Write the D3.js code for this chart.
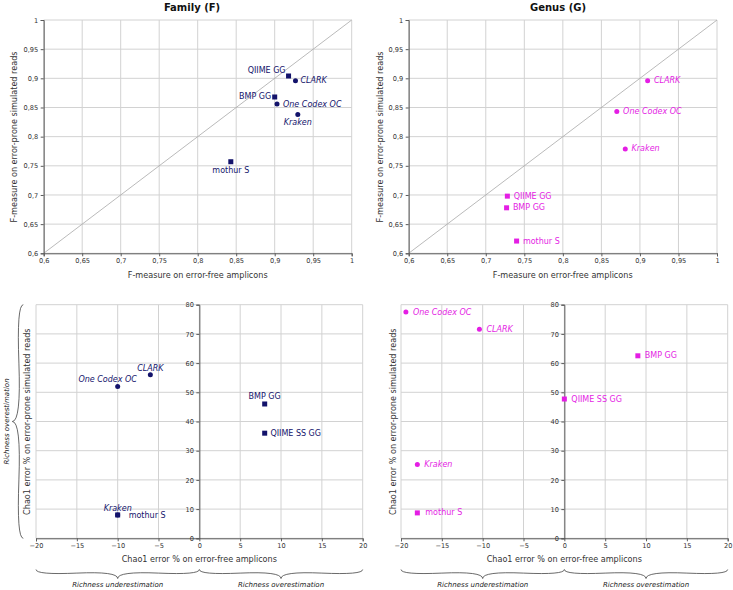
<!DOCTYPE html>
<html>
<head>
<meta charset="utf-8">
<script src="https://cdn.jsdelivr.net/npm/d3@7"></script>
<style>
  html, body { margin: 0; padding: 0; background: #fff; }
  svg { display: block; font-family: "DejaVu Sans", sans-serif; }
</style>
</head>
<body>
<svg id="chart" width="733" height="590"></svg>
<script>
// ---------------- DATA ----------------
const fmTicks = [0.6, 0.65, 0.7, 0.75, 0.8, 0.85, 0.9, 0.95, 1];
const chaoXTicks = [-20, -15, -10, -5, 0, 5, 10, 15, 20];
const chaoYTicks = [0, 10, 20, 30, 40, 50, 60, 70, 80];

// k-mer based classifiers (drawn as circles, italic labels); others are squares
const kmerTools = ["CLARK", "One Codex OC", "Kraken"];

// Family (F): F-measure
const famFmTools = ["QIIME GG", "CLARK", "BMP GG", "One Codex OC", "Kraken", "mothur S"];
const famFmFree  = [0.918, 0.927, 0.900, 0.903, 0.930, 0.843];
const famFmProne = [0.904, 0.896, 0.868, 0.856, 0.838, 0.757];

// Genus (G): F-measure
const genFmTools = ["CLARK", "One Codex OC", "Kraken", "QIIME GG", "BMP GG", "mothur S"];
const genFmFree  = [0.910, 0.870, 0.881, 0.728, 0.727, 0.740];
const genFmProne = [0.896, 0.843, 0.779, 0.698, 0.678, 0.621];

// Family (F): Chao1 error %
const famChTools = ["CLARK", "One Codex OC", "Kraken", "mothur S", "BMP GG", "QIIME SS GG"];
const famChFree  = [-6, -10, -10, -10, 8, 8];
const famChProne = [56, 52, 8, 8, 46, 36];

// Genus (G): Chao1 error %
const genChTools = ["One Codex OC", "CLARK", "BMP GG", "QIIME SS GG", "Kraken", "mothur S"];
const genChFree  = [-19.4, -10.4, 9, 0, -18, -18];
const genChProne = [77.5, 71.6, 62.5, 47.7, 25.3, 8.7];

const titles = ["Family (F)", "Genus (G)"];
const fmXLabel = "F-measure on error-free amplicons";
const fmYLabel = "F-measure on error-prone simulated reads";
const chXLabel = "Chao1 error % on error-free amplicons";
const chYLabel = "Chao1 error % on error-prone simulated reads";
const underLabel = "Richness underestimation";
const overLabel = "Richness overestimation";

// ---------------- STYLE / LAYOUT ----------------
const famColor = "#13136b";
const genColor = "#e41ee4";
const gridColor = "#d2d2d2";
const axisColor = "#5a5a5a";
const textColor = "#333";

// label placement (anchor, dx, dy) per panel/tool
const famFmLabelPos = {
  "QIIME GG": ["end", -3, -5], "CLARK": ["start", 5, 0], "BMP GG": ["end", -3.5, 0],
  "One Codex OC": ["start", 6, 1], "Kraken": ["middle", 0, 8.5], "mothur S": ["middle", 0, 8.7]
};
const genFmLabelPos = {};
genFmTools.forEach(t => genFmLabelPos[t] = ["start", 6.3, 0]);
const famChLabelPos = {
  "CLARK": ["middle", 0, -6.7], "One Codex OC": ["middle", -10, -6.7], "Kraken": ["middle", 0, -6.7],
  "mothur S": ["start", 11, 0.5], "BMP GG": ["middle", 0, -7], "QIIME SS GG": ["start", 5.7, 0]
};
const genChLabelPos = {};
genChTools.forEach(t => genChLabelPos[t] = ["start", 7, 0]);
genChLabelPos["mothur S"] = ["start", 8, 0];

const svg = d3.select("#chart");
const locale = d3.formatLocale({decimal: ",", thousands: ".", grouping: [3], currency: ["", ""]});
const fmFmt = locale.format("~g");

function brace(x1, y1, x2, y2, w, q) {
  let dx = x1 - x2, dy = y1 - y2;
  const len = Math.sqrt(dx * dx + dy * dy);
  dx /= len; dy /= len;
  const qx1 = x1 + q * w * dy, qy1 = y1 - q * w * dx;
  const qx2 = (x1 - .25 * len * dx) + (1 - q) * w * dy, qy2 = (y1 - .25 * len * dy) - (1 - q) * w * dx;
  const tx1 = (x1 - .5 * len * dx) + w * dy, ty1 = (y1 - .5 * len * dy) - w * dx;
  const qx3 = x2 + q * w * dy, qy3 = y2 - q * w * dx;
  const qx4 = (x1 - .75 * len * dx) + (1 - q) * w * dy, qy4 = (y1 - .75 * len * dy) - (1 - q) * w * dx;
  return `M${x1},${y1} Q${qx1},${qy1} ${qx2},${qy2} T${tx1},${ty1} M${x2},${y2} Q${qx3},${qy3} ${qx4},${qy4} T${tx1},${ty1}`;
}

function panel(opts) {
  const g = svg.append("g");
  const x = d3.scaleLinear().domain(opts.xDomain).range(opts.xRange);
  const y = d3.scaleLinear().domain(opts.yDomain).range(opts.yRange);

  // grid
  g.append("g").selectAll("line.gx").data(opts.xTicks).join("line")
    .attr("x1", d => x(d)).attr("x2", d => x(d))
    .attr("y1", opts.yRange[0]).attr("y2", opts.yRange[1])
    .attr("stroke", gridColor).attr("stroke-width", 1);
  g.append("g").selectAll("line.gy").data(opts.yTicks).join("line")
    .attr("y1", d => y(d)).attr("y2", d => y(d))
    .attr("x1", opts.xRange[0]).attr("x2", opts.xRange[1])
    .attr("stroke", gridColor).attr("stroke-width", 1);

  if (opts.diagonal) {
    g.append("line")
      .attr("x1", x(opts.xDomain[0])).attr("y1", y(opts.yDomain[0]))
      .attr("x2", x(opts.xDomain[1])).attr("y2", y(opts.yDomain[1]))
      .attr("stroke", "#a8a8a8").attr("stroke-width", 0.8);
  }

  // axes
  const xAxis = d3.axisBottom(x).tickValues(opts.xTicks).tickSize(3).tickPadding(2.5);
  const yAxis = d3.axisLeft(y).tickValues(opts.yTicks).tickSize(3).tickPadding(2.5);
  if (opts.fmt) { xAxis.tickFormat(opts.fmt); yAxis.tickFormat(opts.fmt); }
  const gx = g.append("g").attr("transform", `translate(0,${opts.yRange[0]})`).call(xAxis);
  const gy = g.append("g").attr("transform", `translate(${opts.yAxisAt !== undefined ? x(opts.yAxisAt) : opts.xRange[0]},0)`).call(yAxis);
  [gx, gy].forEach(a => {
    a.select(".domain").attr("stroke", axisColor).attr("stroke-width", 1);
    a.selectAll(".tick line").attr("stroke", axisColor);
    a.selectAll(".tick text").attr("fill", textColor).style("font-size", "6.6px")
      .style("font-family", "'DejaVu Sans', sans-serif");
  });

  // axis labels
  g.append("text").attr("x", opts.xLabelPos[0]).attr("y", opts.xLabelPos[1])
    .attr("text-anchor", "middle").attr("dominant-baseline", "central")
    .attr("fill", textColor).style("font-size", "8.1px").text(opts.xLabel);
  g.append("text")
    .attr("transform", `translate(${opts.yLabelPos[0]},${opts.yLabelPos[1]}) rotate(-90)`)
    .attr("text-anchor", "middle").attr("dominant-baseline", "central")
    .attr("fill", textColor).style("font-size", "8.1px").text(opts.yLabel);

  if (opts.title) {
    g.append("text").attr("x", opts.title[1]).attr("y", opts.title[2])
      .attr("text-anchor", "middle").attr("dominant-baseline", "central")
      .attr("fill", "#111").style("font-size", "10px").style("font-weight", "bold").text(opts.title[0]);
  }

  // points
  const data = opts.tools.map((t, i) => ({tool: t, xv: opts.xs[i], yv: opts.ys[i], kmer: kmerTools.includes(t)}));
  // draw circles first, squares on top
  data.sort((a, b) => (b.kmer ? 1 : 0) - (a.kmer ? 1 : 0));
  const pts = g.append("g");
  data.forEach(d => {
    if (d.kmer) {
      pts.append("circle").attr("cx", x(d.xv)).attr("cy", y(d.yv)).attr("r", 2.5).attr("fill", opts.color);
    } else {
      pts.append("rect").attr("x", x(d.xv) - 2.5).attr("y", y(d.yv) - 2.5)
        .attr("width", 5).attr("height", 5).attr("fill", opts.color);
    }
  });
  data.forEach(d => {
    const p = opts.labelPos[d.tool];
    pts.append("text").attr("x", x(d.xv) + p[1]).attr("y", y(d.yv) + p[2])
      .attr("text-anchor", p[0]).attr("dominant-baseline", "central")
      .attr("fill", opts.color).style("font-size", "8px")
      .style("font-style", d.kmer ? "italic" : "normal").text(d.tool);
  });
  return {x, y};
}

// Top-left: Family F-measure
panel({
  xDomain: [0.6, 1], yDomain: [0.6, 1], xRange: [43.7, 351.7], yRange: [253.3, 20],
  xTicks: fmTicks, yTicks: fmTicks, fmt: fmFmt, diagonal: true,
  xLabel: fmXLabel, yLabel: fmYLabel, xLabelPos: [197.7, 274.5], yLabelPos: [14, 137],
  title: [titles[0], 192, 7], tools: famFmTools, xs: famFmFree, ys: famFmProne,
  color: famColor, labelPos: famFmLabelPos
});
// Top-right: Genus F-measure
panel({
  xDomain: [0.6, 1], yDomain: [0.6, 1], xRange: [408.7, 717], yRange: [253.3, 20],
  xTicks: fmTicks, yTicks: fmTicks, fmt: fmFmt, diagonal: true,
  xLabel: fmXLabel, yLabel: fmYLabel, xLabelPos: [562.7, 274.5], yLabelPos: [380, 137],
  title: [titles[1], 558, 7], tools: genFmTools, xs: genFmFree, ys: genFmProne,
  color: genColor, labelPos: genFmLabelPos
});
// Bottom-left: Family Chao1
const bl = panel({
  xDomain: [-20, 20], yDomain: [0, 80], xRange: [36, 362.7], yRange: [538.3, 304.7],
  xTicks: chaoXTicks, yTicks: chaoYTicks, yAxisAt: 0,
  xLabel: chXLabel, yLabel: chYLabel, xLabelPos: [199.3, 559.3], yLabelPos: [26.7, 421.7],
  tools: famChTools, xs: famChFree, ys: famChProne, color: famColor, labelPos: famChLabelPos
});
// Bottom-right: Genus Chao1
const br = panel({
  xDomain: [-20, 20], yDomain: [0, 80], xRange: [401, 727.7], yRange: [538.3, 304.7],
  xTicks: chaoXTicks, yTicks: chaoYTicks, yAxisAt: 0,
  xLabel: chXLabel, yLabel: chYLabel, xLabelPos: [564.3, 559.3], yLabelPos: [392.7, 421.7],
  tools: genChTools, xs: genChFree, ys: genChProne, color: genColor, labelPos: genChLabelPos
});

// braces
const braceG = svg.append("g").attr("fill", "none").attr("stroke", "#444").attr("stroke-width", 0.8);
[bl, br].forEach(s => {
  const yb = 569.5;
  braceG.append("path").attr("d", brace(s.x(-20), yb, s.x(0), yb, 9, 0.6));
  braceG.append("path").attr("d", brace(s.x(0), yb, s.x(20), yb, 9, 0.6));
  svg.append("text").attr("x", (s.x(-20) + s.x(0)) / 2).attr("y", 585)
    .attr("text-anchor", "middle").attr("dominant-baseline", "central")
    .attr("fill", "#222").style("font-size", "7px").style("font-style", "italic").text(underLabel);
  svg.append("text").attr("x", (s.x(0) + s.x(20)) / 2).attr("y", 585)
    .attr("text-anchor", "middle").attr("dominant-baseline", "central")
    .attr("fill", "#222").style("font-size", "7px").style("font-style", "italic").text(overLabel);
});
// vertical brace on the left of the bottom-left panel
braceG.append("path").attr("d", brace(23.3, bl.y(80), 23.3, bl.y(0), 11, 0.6));
svg.append("text")
  .attr("transform", `translate(7,${(bl.y(80) + bl.y(0)) / 2}) rotate(-90)`)
  .attr("text-anchor", "middle").attr("dominant-baseline", "central")
  .attr("fill", "#222").style("font-size", "7px").style("font-style", "italic").text(overLabel);
</script>
</body>
</html>
